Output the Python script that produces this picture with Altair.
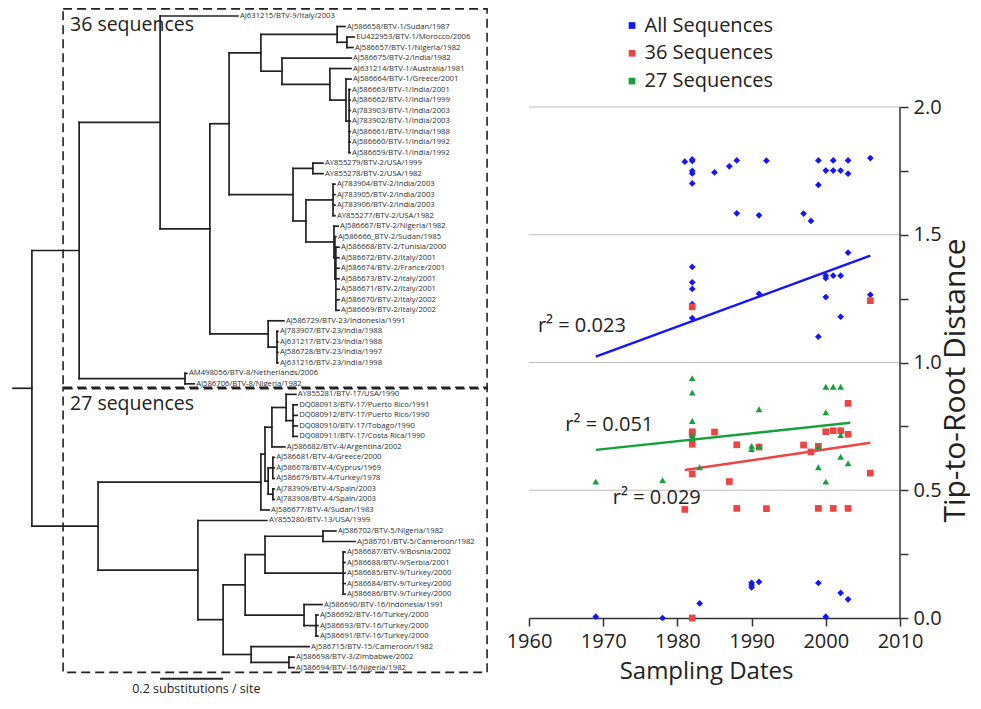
import altair as alt
import pandas as pd

FONT = "Open Sans"

# ------------------------------------------------------------------
# Phylogenetic tree (depths = distance from root, substitutions/site)
# ------------------------------------------------------------------
def L(d, name):
    return {"d": d, "name": name}


def N(d, *kids):
    return {"d": d, "kids": list(kids)}


INDIA_BTV1 = ["AJ586663/BTV-1/India/2001", "AJ586662/BTV-1/India/1999", "AJ783903/BTV-1/India/2003",
              "AJ783902/BTV-1/India/2003", "AJ586661/BTV-1/India/1988", "AJ586660/BTV-1/India/1992",
              "AJ586659/BTV-1/India/1992"]
BTV2_A = ["AJ783904/BTV-2/India/2003", "AJ783905/BTV-2/India/2003", "AJ783906/BTV-2/India/2003",
          "AY855277/BTV-2/USA/1982"]
BTV2_EU = ["AJ586668/BTV-2/Tunisia/2000", "AJ586672/BTV-2/Italy/2001", "AJ586674/BTV-2/France/2001",
           "AJ586673/BTV-2/Italy/2001", "AJ586671/BTV-2/Italy/2001", "AJ586670/BTV-2/Italy/2002",
           "AJ586669/BTV-2/Italy/2002"]
BTV23_IN = ["AJ783907/BTV-23/India/1988", "AJ631217/BTV-23/India/1988", "AJ586728/BTV-23/India/1997",
            "AJ631216/BTV-23/India/1998"]
BTV17_B = ["DQ080913/BTV-17/Puerto Rico/1991", "DQ080912/BTV-17/Puerto Rico/1990",
           "DQ080910/BTV-17/Tobago/1990", "DQ080911/BTV-17/Costa Rica/1990"]
BTV4_A = ["AJ586681/BTV-4/Greece/2000", "AJ586678/BTV-4/Cyprus/1969", "AJ586679/BTV-4/Turkey/1978"]
BTV4_B = ["AJ783909/BTV-4/Spain/2003", "AJ783908/BTV-4/Spain/2003"]
BTV9 = ["AJ586687/BTV-9/Bosnia/2002", "AJ586688/BTV-9/Serbia/2001", "AJ586685/BTV-9/Turkey/2000",
        "AJ586684/BTV-9/Turkey/2000", "AJ586686/BTV-9/Turkey/2000"]
BTV16_TR = ["AJ586692/BTV-16/Turkey/2000", "AJ586693/BTV-16/Turkey/2000", "AJ586691/BTV-16/Turkey/2000"]

CLADE_36 = N(0.210,
    N(0.467,
        L(0.714, "AJ631215/BTV-9/Italy/2003"),
        N(0.625,
            N(0.686,
                N(0.787,
                    N(1.029,
                        L(1.054, "AJ586658/BTV-1/Sudan/1987"),
                        N(1.060, L(1.083, "EU422953/BTV-1/Morocco/2006"),
                                 L(1.079, "AJ586657/BTV-1/Nigeria/1982"))),
                    N(0.854,
                        L(1.073, "AJ586675/BTV-2/India/1982"),
                        N(1.006,
                            L(1.073, "AJ631214/BTV-1/Australia/1981"),
                            N(1.057,
                                L(1.073, "AJ586664/BTV-1/Greece/2001"),
                                N(1.067, *[L(1.070, n) for n in INDIA_BTV1]))))),
                N(0.889,
                    N(0.952, L(0.984, "AY855279/BTV-2/USA/1999"), L(0.984, "AY855278/BTV-2/USA/1982")),
                    N(0.930,
                        N(1.016, *[L(1.022, n) for n in BTV2_A]),
                        N(1.019,
                            L(1.032, "AJ586667/BTV-2/Nigeria/1982"),
                            N(1.022,
                                L(1.025, "AJ586666_BTV-2/Sudan/1985"),
                                N(1.025, *[L(1.035, n) for n in BTV2_EU])))))),
            N(0.810,
                L(0.860, "AJ586729/BTV-23/Indonesia/1991"),
                N(0.838, *[L(0.841, n) for n in BTV23_IN])))),
    N(0.546, L(0.552, "AM498056/BTV-8/Netherlands/2006"), L(0.575, "AJ586706/BTV-8/Nigeria/1982")))

CLADE_27 = N(0.270,
    N(0.787,
        N(0.800,
            N(0.822,
                N(0.867, L(0.898, "AY855281/BTV-17/USA/1990"),
                         N(0.889, *[L(0.902, n) for n in BTV17_B])),
                L(0.863, "AJ586682/BTV-4/Argentina/2002")),
            N(0.810,
                N(0.825, *[L(0.829, n) for n in BTV4_A]),
                N(0.825, *[L(0.829, n) for n in BTV4_B]))),
        L(0.813, "AJ586677/BTV-4/Sudan/1983")),
    N(0.587,
        L(0.806, "AY855280/BTV-13/USA/1999"),
        N(0.667,
            N(0.737,
                N(0.800,
                    N(0.984, L(1.025, "AJ586702/BTV-5/Nigeria/1982"),
                             L(1.086, "AJ586701/BTV-5/Cameroon/1982")),
                    N(1.048, *[L(1.054, n) for n in BTV9])),
                N(0.924,
                    L(0.981, "AJ586690/BTV-16/Indonesia/1991"),
                    N(0.962, *[L(0.968, n) for n in BTV16_TR]))),
            N(0.756,
                L(0.940, "AJ586715/BTV-15/Cameroon/1982"),
                N(0.876, L(0.892, "AJ586698/BTV-3/Zimbabwe/2002"),
                         L(0.892, "AJ586694/BTV-16/Nigeria/1982"))))))

ROOT = N(0.060, CLADE_36, CLADE_27)
ROOT_STEM = 0.0

GROUP_NAMES = ["36 sequences", "27 sequences"]
GROUP_FIRST = [0, 36]
GROUP_LAST = [35, 62]
SCALE_BAR = 0.2
SCALE_LABEL = "0.2 substitutions / site"

segs, leaves = [], []
counter = [0]


def layout(node, parent_d):
    if "name" in node:
        y = counter[0]
        counter[0] += 1
        leaves.append({"x": node["d"], "y": y, "label": node["name"]})
    else:
        ys = [layout(k, node["d"]) for k in node["kids"]]
        y = (ys[0] + ys[-1]) / 2
        segs.append({"x": node["d"], "x2": node["d"], "y": ys[0], "y2": ys[-1]})
    segs.append({"x": parent_d, "x2": node["d"], "y": y, "y2": y})
    return y


layout(ROOT, ROOT_STEM)
seg_df = pd.DataFrame(segs)
leaf_df = pd.DataFrame(leaves)

groups = pd.DataFrame({"name": GROUP_NAMES, "first": GROUP_FIRST, "last": GROUP_LAST})
groups["y"] = groups["first"] - 0.68
groups["y2"] = groups["last"] + 0.45
groups["ty"] = groups["first"] + 0.88
groups["x"] = 0.159
groups["x2"] = 1.505
groups["tx"] = 0.181

bar_df = pd.DataFrame({"x": [0.467], "x2": [0.467 + SCALE_BAR], "y": [63.05],
                       "ty": [64.05], "tx": [0.467 + SCALE_BAR / 2 + 0.015], "label": [SCALE_LABEL]})

STEP = 10.51          # px per leaf
TREE_H = 688
tx = alt.Scale(domain=[-5 / 315, 495 / 315], nice=False, zero=False)
ty = alt.Scale(domain=[-8 / STEP, (TREE_H - 8) / STEP], nice=False, zero=False, reverse=True)

branches = alt.Chart(seg_df).mark_rule(color="#222222", strokeWidth=1.7, strokeCap="square").encode(
    x=alt.X("x:Q", scale=tx, axis=None), x2="x2:Q",
    y=alt.Y("y:Q", scale=ty, axis=None), y2="y2:Q")

tips = alt.Chart(leaf_df).mark_text(align="left", baseline="middle", dx=2, font=FONT,
                                    fontSize=7.7, color="#2e2e2e").encode(
    x=alt.X("x:Q", scale=tx, axis=None), y=alt.Y("y:Q", scale=ty, axis=None), text="label:N")

boxes = alt.Chart(groups).mark_rect(fill="transparent", stroke="#222", strokeWidth=1.6,
                                    strokeDash=[9, 5]).encode(
    x=alt.X("x:Q", scale=tx, axis=None), x2="x2:Q", y=alt.Y("y:Q", scale=ty, axis=None), y2="y2:Q")

group_txt = alt.Chart(groups).mark_text(align="left", baseline="middle", font=FONT, fontSize=19.5,
                                        color="#222").encode(
    x=alt.X("tx:Q", scale=tx, axis=None), y=alt.Y("ty:Q", scale=ty, axis=None), text="name:N")

bar = alt.Chart(bar_df).mark_rule(color="#222", strokeWidth=2).encode(
    x=alt.X("x:Q", scale=tx, axis=None), x2="x2:Q", y=alt.Y("y:Q", scale=ty, axis=None))

bar_txt = alt.Chart(bar_df).mark_text(align="center", baseline="middle", font=FONT, fontSize=12.5,
                                      color="#222").encode(
    x=alt.X("tx:Q", scale=tx, axis=None), y=alt.Y("ty:Q", scale=ty, axis=None), text="label:N")

tree = alt.layer(boxes, branches, tips, group_txt, bar, bar_txt).properties(width=500, height=TREE_H)

# ------------------------------------------------------------------
# Root-to-tip scatter
# ------------------------------------------------------------------
SERIES = ["All Sequences", "36 Sequences", "27 Sequences"]
COLORS = ["#1414ff", "#f04444", "#16a03c"]
SHAPES = ["diamond", "square", "triangle-up"]

ALL_YEAR = [1981, 1982, 1982, 1982, 1982, 1982, 1985, 1987, 1988, 1992, 1999, 2000, 2001, 2001, 2002,
            2003, 2003, 2006, 1999, 1988, 1991, 1997, 1998, 2003, 1982, 1982, 1982, 1982, 1982, 1991,
            2000, 2000, 2001, 2002, 2000, 2002, 1999, 2006,
            1969, 1978, 1983, 1990, 1990, 1990, 1991, 1999, 2000, 2002, 2003, 1982]
ALL_DIST = [1.786, 1.795, 1.789, 1.750, 1.740, 1.701, 1.744, 1.768, 1.791, 1.790, 1.791, 1.751, 1.791,
            1.751, 1.751, 1.791, 1.739, 1.800, 1.695, 1.584, 1.576, 1.583, 1.554, 1.430, 1.374, 1.314,
            1.288, 1.229, 1.174, 1.269, 1.340, 1.330, 1.340, 1.340, 1.256, 1.179, 1.101, 1.265,
            0.005, 0.0, 0.057, 0.138, 0.129, 0.120, 0.141, 0.137, 0.005, 0.098, 0.073, 0.0]

S36_YEAR = [1982, 1982, 1982, 1982, 1981, 1985, 1987, 1988, 1988, 1991, 1992, 1997, 1998, 1999, 1999,
            2000, 2001, 2001, 2002, 2003, 2003, 2003, 2006, 1982, 1982, 2006]
S36_DIST = [0.729, 0.723, 0.680, 0.564, 0.425, 0.728, 0.534, 0.678, 0.429, 0.669, 0.428, 0.677, 0.650,
            0.672, 0.429, 0.729, 0.733, 0.429, 0.733, 0.840, 0.719, 0.429, 0.567, 0.0, 1.218, 1.242]

S27_YEAR = [1982, 1982, 1982, 1982, 1982, 1983, 1969, 1978, 1990, 1990, 1991, 1991, 1999, 1999, 2000,
            2000, 2000, 2001, 2002, 2002, 2002, 2003]
S27_DIST = [0.939, 0.882, 0.771, 0.716, 0.703, 0.590, 0.534, 0.540, 0.674, 0.661, 0.817, 0.673, 0.670,
            0.590, 0.905, 0.805, 0.534, 0.905, 0.905, 0.716, 0.631, 0.605]

FIT_SERIES = ["All Sequences", "All Sequences", "36 Sequences", "36 Sequences", "27 Sequences", "27 Sequences"]
FIT_YEAR = [1969, 2006, 1981, 2006, 1969, 2003.3]
FIT_DIST = [1.023, 1.418, 0.579, 0.686, 0.658, 0.764]

R2_TEXT = ["r² = 0.023", "r² = 0.051", "r² = 0.029"]
R2_YEAR = [1961.2, 1964.9, 1971.3]
R2_DIST = [1.144, 0.755, 0.471]

GRID_VALUES = [0.5, 1.0, 1.5, 2.0]
X_TICKS = [1960, 1970, 1980, 1990, 2000, 2010]
Y_TICKS = [0, 0.25, 0.5, 0.75, 1.0, 1.25, 1.5, 1.75, 2.0]

pts = pd.concat([
    pd.DataFrame({"series": SERIES[0], "year": ALL_YEAR, "dist": ALL_DIST}),
    pd.DataFrame({"series": SERIES[1], "year": S36_YEAR, "dist": S36_DIST}),
    pd.DataFrame({"series": SERIES[2], "year": S27_YEAR, "dist": S27_DIST}),
], ignore_index=True)
fits = pd.DataFrame({"series": FIT_SERIES, "year": FIT_YEAR, "dist": FIT_DIST})
r2 = pd.DataFrame({"text": R2_TEXT, "year": R2_YEAR, "dist": R2_DIST})
grid = pd.DataFrame({"v": GRID_VALUES})
yline_df = pd.DataFrame({"x": [X_TICKS[-1]], "y": [0.0], "y2": [GRID_VALUES[-1]]})

sx = alt.Scale(domain=[1960, 2010], nice=False, zero=False)
sy = alt.Scale(domain=[0, 610 / 255.5], nice=False, zero=False)
col = alt.Scale(domain=SERIES, range=COLORS)

x_axis = alt.Axis(values=X_TICKS, format="d", domainColor="#333", domainWidth=1.5, tickSize=8,
                  tickWidth=1.5, tickColor="#333", labelFont=FONT, labelFontSize=20, labelColor="#222",
                  labelPadding=5, labelFlush=False, grid=False, title="Sampling Dates", titleFont=FONT,
                  titleFontSize=24, titleFontWeight="normal", titleColor="#222", titleX=177, titleY=60,
                  titleBaseline="alphabetic", titleAlign="center")
y_axis = alt.Axis(orient="right", values=Y_TICKS,
                  labelExpr="datum.value % 0.5 == 0 ? format(datum.value, '.1f') : ''",
                  domain=False, grid=False, tickSize=8, tickWidth=1.5, tickColor="#333",
                  labelFont=FONT, labelFontSize=20, labelColor="#222", labelPadding=5,
                  labelBaseline="middle", title="Tip-to-Root Distance", titleFont=FONT,
                  titleFontSize=30, titleFontWeight="normal", titleColor="#222", titleAngle=270,
                  titleX=70, titleY=372, titleAlign="center", titleBaseline="bottom")

leg = alt.Legend(orient="none", legendX=614, legendY=7.5, title=None,
                 symbolType="square", symbolSize=45, symbolStrokeWidth=0,
                 labelFont=FONT, labelFontSize=20, labelColor="#222",
                 labelOffset=2.5, rowPadding=7.8, padding=0)

gridlines = alt.Chart(grid).mark_rule(color="#bdbdbd", strokeWidth=1).encode(
    y=alt.Y("v:Q", scale=sy, axis=y_axis))

yline = alt.Chart(yline_df).mark_rule(color="#333", strokeWidth=1.5).encode(
    x=alt.X("x:Q", scale=sx, axis=x_axis), y=alt.Y("y:Q", scale=sy, axis=y_axis), y2="y2:Q")

fit_lines = alt.Chart(fits).mark_line(strokeWidth=2.5).encode(
    x=alt.X("year:Q", scale=sx, axis=x_axis), y=alt.Y("dist:Q", scale=sy, axis=y_axis),
    color=alt.Color("series:N", scale=col, legend=leg), detail="series:N")

point_layers = []
for s, shp in zip(SERIES, SHAPES):
    point_layers.append(
        alt.Chart(pts).transform_filter(alt.datum.series == s)
        .mark_point(filled=True, size=45, opacity=1, shape=shp)
        .encode(x=alt.X("year:Q", scale=sx, axis=x_axis), y=alt.Y("dist:Q", scale=sy, axis=y_axis),
                color=alt.Color("series:N", scale=col, legend=leg)))

r2_txt = alt.Chart(r2).mark_text(align="left", baseline="middle", font=FONT, fontSize=20,
                                 color="#222").encode(
    x=alt.X("year:Q", scale=sx, axis=x_axis), y=alt.Y("dist:Q", scale=sy, axis=y_axis), text="text:N")

scatter = alt.layer(gridlines, yline, fit_lines, *point_layers, r2_txt).properties(width=371, height=610)

chart = alt.hconcat(tree, scatter, spacing=21, padding=0, bounds="flush").configure_view(stroke=None)

chart.save("out.html", embed_options={"renderer": "svg", "actions": False})
